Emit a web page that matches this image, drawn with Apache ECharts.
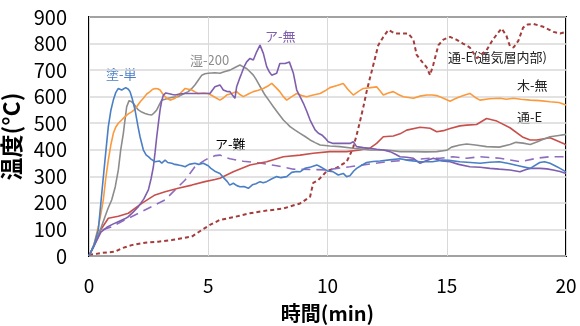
<!DOCTYPE html>
<html>
<head>
<meta charset="utf-8">
<script src="https://cdn.jsdelivr.net/npm/echarts@6/dist/echarts.min.js"></script>
<style>
  html, body { margin: 0; padding: 0; background: #fff; }
  #chart { width: 580px; height: 326px; }
</style>
</head>
<body>
<div id="chart"></div>
<script>
// Temperature histories [time (min), temperature (°C)]
const tuTan = [[0,0],[0.2,40],[0.39,98],[0.55,250],[0.67,361],[0.81,487],[0.92,550],[1.02,587],[1.12,615],[1.23,631],[1.37,625],[1.54,634],[1.65,628],[1.72,619],[1.82,590],[1.93,550],[2.05,490],[2.14,449],[2.28,399],[2.4,380],[2.49,374],[2.6,365],[2.77,355],[2.95,358],[3.05,350],[3.19,361],[3.3,352],[3.47,349],[3.6,345],[3.74,343],[3.9,340],[4.03,336],[4.2,345],[4.44,349],[4.6,345],[4.79,349],[5.0,340],[5.1,331],[5.3,318],[5.49,311],[5.62,297],[5.8,280],[5.9,267],[6.05,274],[6.2,265],[6.33,261],[6.5,262],[6.68,255],[6.85,268],[7.0,272],[7.17,280],[7.3,276],[7.45,280],[7.65,290],[7.87,299],[8.05,295],[8.29,299],[8.5,315],[8.7,318],[8.85,317],[9.05,330],[9.3,335],[9.55,343],[9.7,336],[9.82,330],[10.0,320],[10.24,317],[10.45,305],[10.66,311],[10.8,299],[10.94,302],[11.1,320],[11.22,330],[11.4,340],[11.64,352],[11.9,356],[12.2,358],[12.6,362],[13.04,366],[13.4,360],[13.88,355],[14.4,355],[14.8,361],[15.1,360],[15.55,355],[16.0,352],[16.4,349],[16.8,353],[17.2,355],[17.6,348],[18.0,340],[18.5,330],[18.9,352],[19.1,355],[19.33,349],[19.6,337],[19.75,330],[20,317]];

const mokuMu = [[0,0],[0.2,40],[0.39,110],[0.5,160],[0.6,211],[0.7,290],[0.81,361],[0.92,420],[1.02,462],[1.12,485],[1.23,500],[1.37,512],[1.51,525],[1.65,535],[1.79,543],[1.9,550],[2.0,562],[2.14,580],[2.28,594],[2.42,610],[2.56,619],[2.67,628],[2.77,631],[2.88,630],[2.98,625],[3.08,612],[3.19,600],[3.3,592],[3.4,587],[3.5,590],[3.61,594],[3.72,604],[3.82,612],[3.93,622],[4.03,631],[4.17,628],[4.31,625],[4.45,618],[4.58,612],[4.8,614],[5.0,612],[5.07,612],[5.28,598],[5.49,587],[5.63,595],[5.77,606],[5.98,612],[6.19,619],[6.33,608],[6.47,600],[6.68,610],[6.89,619],[7.1,624],[7.31,631],[7.5,640],[7.66,650],[7.83,635],[8.0,619],[8.15,600],[8.29,587],[8.5,600],[8.71,612],[8.92,604],[9.13,600],[9.4,606],[9.69,612],[9.9,622],[10.1,634],[10.4,642],[10.66,650],[10.85,628],[11.08,606],[11.3,620],[11.5,631],[11.8,634],[12.06,637],[12.2,622],[12.34,606],[12.55,614],[12.76,619],[12.97,608],[13.18,600],[13.4,597],[13.6,594],[13.88,602],[14.16,606],[14.4,606],[14.58,604],[14.86,594],[15.14,583],[15.35,592],[15.55,600],[15.76,606],[15.97,612],[16.18,598],[16.39,587],[16.8,592],[17.23,594],[17.5,590],[17.79,594],[18.1,590],[18.5,587],[18.9,585],[19.33,581],[19.7,578],[20,569]];

const shitsu200 = [[0,0],[0.2,35],[0.4,80],[0.67,148],[0.8,180],[0.95,211],[1.1,260],[1.23,324],[1.33,400],[1.44,462],[1.52,520],[1.58,562],[1.68,585],[1.77,582],[1.86,575],[1.96,562],[2.07,550],[2.21,542],[2.35,537],[2.49,533],[2.63,531],[2.74,540],[2.84,550],[2.95,570],[3.05,587],[3.19,590],[3.32,594],[3.5,598],[3.74,600],[3.95,610],[4.16,619],[4.3,630],[4.44,644],[4.58,662],[4.73,681],[4.86,686],[5.0,688],[5.07,694],[5.28,690],[5.49,688],[5.7,695],[5.91,700],[6.12,710],[6.33,719],[6.47,712],[6.61,706],[6.75,694],[6.89,681],[7.0,666],[7.1,650],[7.24,628],[7.38,606],[7.55,585],[7.73,562],[7.94,537],[8.15,512],[8.29,500],[8.43,487],[8.64,474],[8.85,462],[9.06,450],[9.27,437],[9.48,427],[9.69,418],[9.9,416],[10.1,414],[10.52,412],[11.08,406],[11.5,402],[11.78,399],[12.2,399],[12.48,399],[13.04,393],[13.6,393],[14.1,392],[14.58,393],[15.0,398],[15.2,410],[15.55,418],[15.84,422],[16.2,418],[16.67,412],[17.2,410],[17.65,420],[17.9,428],[18.2,425],[18.5,420],[18.8,430],[19.05,440],[19.33,449],[19.7,454],[20,458]];

const aMu = [[0,0],[0.25,45],[0.5,90],[0.75,108],[1.0,120],[1.25,130],[1.5,140],[1.65,148],[1.85,165],[2.07,186],[2.3,215],[2.49,249],[2.6,290],[2.7,336],[2.77,390],[2.84,449],[2.91,500],[2.98,550],[3.05,585],[3.12,606],[3.22,614],[3.32,612],[3.5,608],[3.61,606],[3.8,610],[4.03,612],[4.3,612],[4.58,612],[4.8,612],[5.07,612],[5.18,625],[5.28,637],[5.49,644],[5.56,635],[5.63,625],[5.77,620],[5.91,619],[6.02,605],[6.12,594],[6.19,637],[6.3,665],[6.4,688],[6.5,712],[6.61,731],[6.75,744],[6.89,738],[7.03,769],[7.17,794],[7.31,763],[7.45,713],[7.55,695],[7.66,681],[7.87,688],[8.0,725],[8.22,725],[8.4,731],[8.57,688],[8.71,625],[8.85,600],[8.99,575],[9.13,545],[9.27,512],[9.48,475],[9.62,462],[9.76,456],[9.9,444],[10.03,430],[10.24,424],[10.66,424],[10.94,424],[11.08,430],[11.22,412],[11.5,408],[11.78,406],[12.06,402],[12.34,399],[12.62,393],[12.83,384],[13.04,374],[13.32,372],[13.6,368],[13.74,358],[13.88,349],[14.16,360],[14.44,368],[14.8,358],[15.14,355],[15.5,345],[15.97,336],[16.4,334],[16.81,330],[17.2,327],[17.65,324],[18.07,317],[18.3,325],[18.49,330],[18.91,330],[19.2,328],[19.46,324],[19.75,318],[20,311]];

const aNan = [[0,0],[0.25,50],[0.53,98],[0.95,110],[1.51,136],[2.07,161],[2.63,186],[3.19,211],[3.61,249],[4.03,286],[4.44,336],[4.86,361],[5.07,370],[5.3,378],[5.49,380],[5.7,372],[5.91,366],[6.47,357],[7.17,350],[7.87,340],[8.57,327],[9.27,326],[9.97,324],[10.4,330],[10.94,336],[11.5,343],[12.48,355],[13.32,361],[14.3,368],[14.72,368],[15.26,374],[15.84,368],[16.39,374],[17.23,368],[18.07,355],[18.77,368],[19.33,374],[20,374]];

const tsuE = [[0,0],[0.25,50],[0.5,100],[0.81,142],[1.23,150],[1.65,161],[2.21,198],[2.77,230],[3.19,242],[3.74,255],[4.31,267],[4.86,280],[5.28,288],[5.49,293],[6.05,317],[6.75,343],[7.45,355],[8.15,374],[8.85,380],[9.4,387],[10.1,393],[10.8,393],[11.36,399],[11.78,406],[12.06,424],[12.34,449],[12.76,452],[13.04,460],[13.32,474],[13.88,485],[14.3,481],[14.58,468],[14.86,472],[15.14,480],[15.55,490],[15.84,493],[16.25,495],[16.67,518],[17.1,508],[17.65,483],[18.2,447],[18.5,437],[18.77,437],[19.33,445],[19.6,435],[19.89,424],[20,418]];

const tsuEInner = [[0,5],[0.3,8],[0.53,12],[1.09,16],[1.37,29],[1.79,41],[2.35,50],[2.91,54],[3.47,60],[3.89,67],[4.31,73],[4.73,98],[5.07,117],[5.49,136],[6.05,146],[6.75,161],[7.45,171],[8.15,179],[8.85,198],[9.27,223],[9.4,275],[9.6,285],[9.82,305],[9.97,320],[10.38,332],[10.8,355],[10.94,380],[11.08,410],[11.22,455],[11.36,506],[11.5,560],[11.64,619],[11.78,670],[11.92,719],[12.13,794],[12.34,825],[12.55,851],[12.83,838],[13.1,838],[13.38,838],[13.6,815],[13.74,757],[14.02,725],[14.16,710],[14.3,681],[14.44,722],[14.65,794],[14.86,815],[15.14,825],[15.4,815],[15.68,800],[15.97,785],[16.26,745],[16.67,775],[16.9,810],[17.1,835],[17.3,857],[17.5,830],[17.65,790],[17.8,785],[18.0,810],[18.2,860],[18.4,872],[18.63,874],[19.05,863],[19.47,844],[19.75,838],[20,844]];

const xTicks = { min: 0, max: 20, interval: 5 };
const yTicks = { min: 0, max: 900, interval: 100 };

const FONT = '"Noto Sans CJK JP", "Noto Sans", sans-serif';

function line(name, data, color, width, type) {
  return {
    name, type: 'line', data, symbol: 'none', smooth: false,
    lineStyle: { color, width, type: type || 'solid' },
    itemStyle: { color }
  };
}

const chart = echarts.init(document.getElementById('chart'), null, { renderer: 'canvas' });
chart.setOption({
  animation: false,
  backgroundColor: '#ffffff',
  grid: {
    left: 89, right: 14, top: 17, bottom: 70,
    outerBoundsMode: 'none', containLabel: false,
    show: true, borderColor: '#000', borderWidth: 2, backgroundColor: 'transparent'
  },
  xAxis: {
    type: 'value', min: xTicks.min, max: xTicks.max, interval: xTicks.interval,
    axisLine: { show: false }, axisTick: { show: false },
    axisLabel: { fontFamily: FONT, fontSize: 19, color: '#000', margin: 20 },
    splitLine: { show: true, lineStyle: { color: '#d9d9d9', width: 1 } },
    name: '時間(min)', nameLocation: 'middle', nameGap: 47,
    nameTextStyle: { fontFamily: FONT, fontSize: 20, fontWeight: 'bold', color: '#000' }
  },
  yAxis: {
    type: 'value', min: yTicks.min, max: yTicks.max, interval: yTicks.interval,
    axisLine: { show: false }, axisTick: { show: false },
    axisLabel: { fontFamily: FONT, fontSize: 20, color: '#000', margin: 22 },
    splitLine: { show: true, lineStyle: { color: '#d9d9d9', width: 1.5 } },
    name: '温度(°C)', nameLocation: 'middle', nameGap: 57, nameRotate: 90,
    nameTextStyle: { fontFamily: FONT, fontSize: 23, fontWeight: 'bold', color: '#000' }
  },
  series: [
    line('通-E(通気層内部)', tsuEInner, '#a33c3a', 2, [4, 3]),
    line('ア-難', aNan, '#8e6cc0', 1.6, [9, 6]),
    line('通-E', tsuE, '#c8504c', 1.6),
    line('湿-200', shitsu200, '#8c8c8c', 1.6),
    line('木-無', mokuMu, '#fb9a3c', 1.6),
    line('ア-無', aMu, '#7e5eae', 1.6),
    line('塗-単', tuTan, '#4a7fc6', 1.6)
  ],
  graphic: [
    { type: 'text', left: 106, top: 68, style: { text: '塗-単', fill: '#4a7fc6', font: '13px ' + FONT } },
    { type: 'text', left: 190, top: 54, style: { text: '湿-200', fill: '#8c8c8c', font: '13px ' + FONT } },
    { type: 'text', left: 265, top: 30, style: { text: 'ア-無', fill: '#7e5eae', font: '13px ' + FONT } },
    { type: 'text', left: 215, top: 138, style: { text: 'ア-難', fill: '#000', font: '13px ' + FONT } },
    { type: 'text', left: 448, top: 51, style: { text: '通-E(通気層内部)', fill: '#222', font: '13px ' + FONT } },
    { type: 'text', left: 517, top: 79, style: { text: '木-無', fill: '#222', font: '13px ' + FONT } },
    { type: 'text', left: 517, top: 111, style: { text: '通-E', fill: '#222', font: '13px ' + FONT } }
  ]
});
</script>
</body>
</html>
